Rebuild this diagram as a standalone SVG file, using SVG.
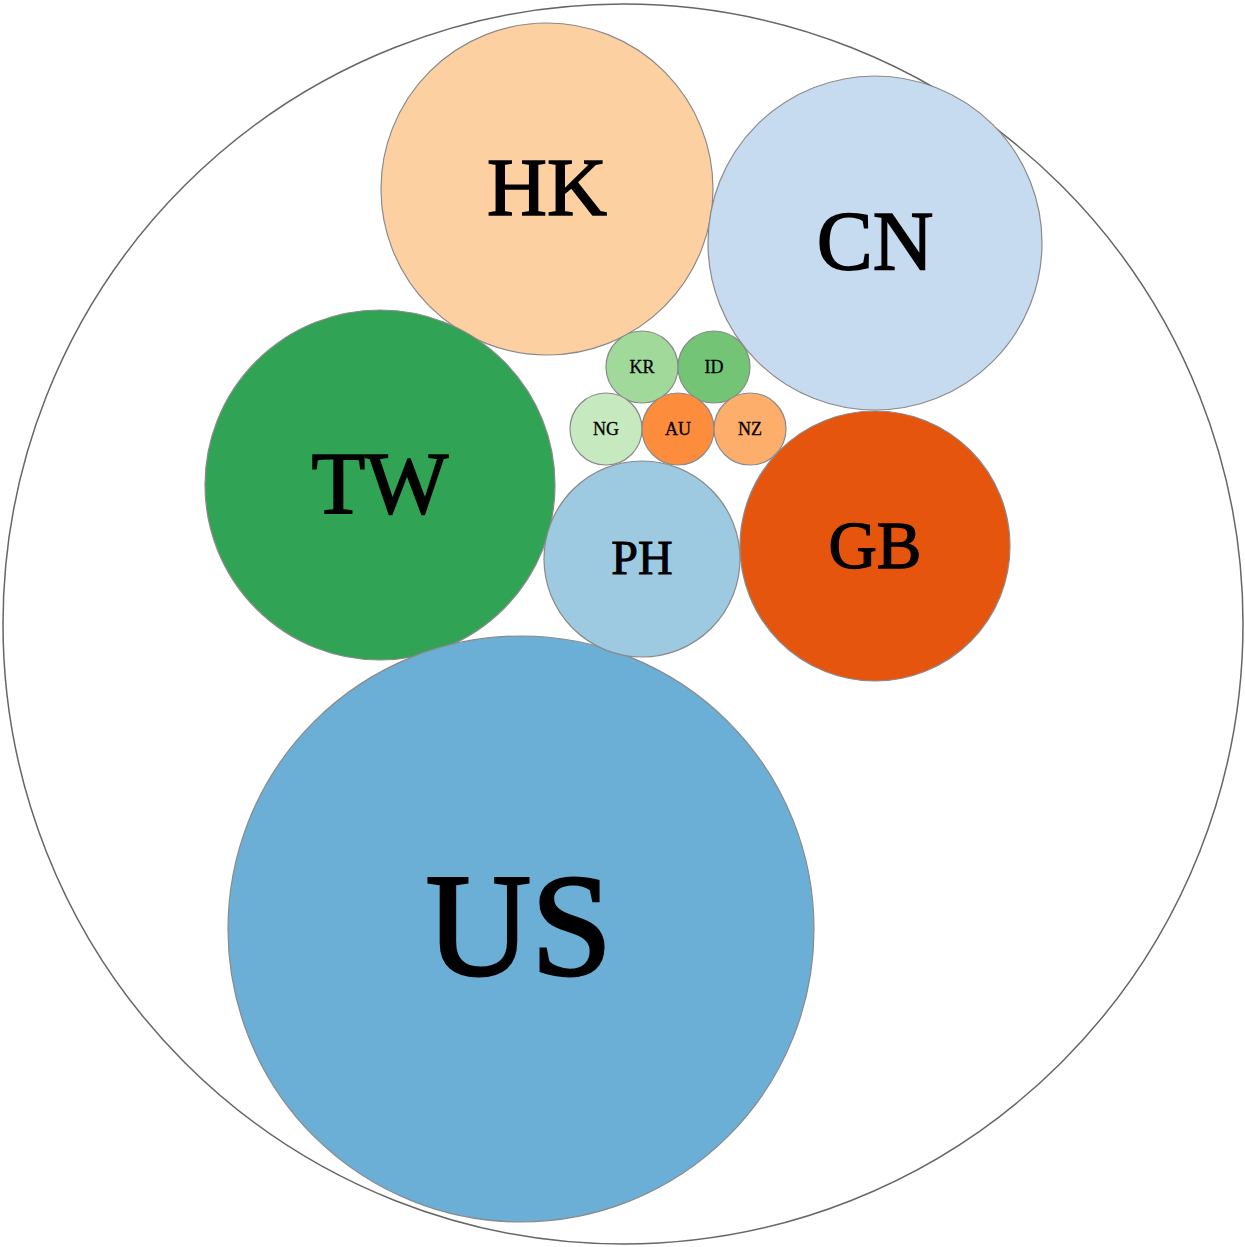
<svg xmlns="http://www.w3.org/2000/svg" width="1245" height="1247" viewBox="0 0 1245 1247">
<style>
circle{stroke:#8a8a8a;stroke-width:1.2}
.outer{fill:#fff;stroke:#666;stroke-width:1.5}
text{font-family:"Liberation Serif","Times New Roman",serif;text-anchor:middle;fill:#000;stroke:#000}
</style>
<rect width="1245" height="1247" fill="#fff"/>
<g id="root"><circle class="outer" cx="623" cy="624" r="620"/></g>
<g id="connectors"></g>
<g id="HK"><circle cx="547" cy="189" r="166" fill="#fdd0a2"/><text x="547" y="215" font-size="83" stroke-width="1.6">HK</text></g>
<g id="CN"><circle cx="875" cy="243" r="167" fill="#c6dbef"/><text x="875" y="270" font-size="84" stroke-width="1.6">CN</text></g>
<g id="TW"><circle cx="380" cy="485" r="175" fill="#31a354"/><text x="380" y="513" font-size="88" stroke-width="1.7">TW</text></g>
<g id="US"><circle cx="521" cy="929" r="293" fill="#6baed6"/><text x="519" y="975" font-size="146" stroke-width="2.8">US</text></g>
<g id="GB"><circle cx="875" cy="546" r="135" fill="#e6550d"/><text x="875" y="568" font-size="67" stroke-width="1.3">GB</text></g>
<g id="PH"><circle cx="642" cy="559" r="98" fill="#9ecae1"/><text x="642" y="574" font-size="48" stroke-width="0.9">PH</text></g>
<g id="KR"><circle cx="642" cy="367" r="36" fill="#a1d99b"/><text x="642" y="373" font-size="18" stroke-width="0.3">KR</text></g>
<g id="ID"><circle cx="714" cy="367" r="36" fill="#74c476"/><text x="714" y="373" font-size="18" stroke-width="0.3">ID</text></g>
<g id="NG"><circle cx="606" cy="429" r="36" fill="#c7e9c0"/><text x="606" y="435" font-size="18" stroke-width="0.3">NG</text></g>
<g id="AU"><circle cx="678" cy="429" r="36" fill="#fd8d3c"/><text x="678" y="435" font-size="18" stroke-width="0.3">AU</text></g>
<g id="NZ"><circle cx="750" cy="429" r="36" fill="#fdae6b"/><text x="750" y="435" font-size="18" stroke-width="0.3">NZ</text></g>
</svg>
